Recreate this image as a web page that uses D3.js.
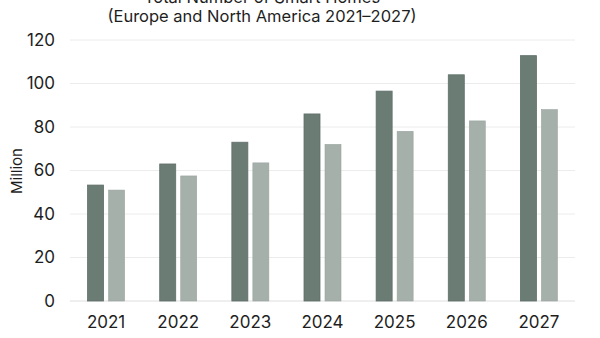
<!DOCTYPE html>
<html><head><meta charset="utf-8">
<script src="https://cdn.jsdelivr.net/npm/d3@7"></script>
<style>body{margin:0;background:#fff}svg{display:block}text{font-family:Inter,"Noto Sans",sans-serif}</style>
</head><body><svg width="600" height="338"></svg>
<script>
const years = ["2021","2022","2023","2024","2025","2026","2027"];
const seriesA = [53.3, 63, 73, 86, 96.5, 104, 112.8];
const seriesB = [51, 57.5, 63.5, 72, 78, 82.8, 88];
const yTicks = [0,20,40,60,80,100,120];
const titleLines = ["Total Number of Smart Homes","(Europe and North America 2021–2027)"];

const svg = d3.select("svg");
const W=600,H=338;
const m={left:70,right:25,top:40,bottom:37};
const x = d3.scaleBand().domain(years).range([m.left,W-m.right]).padding(0);
const y = d3.scaleLinear().domain([0,120]).range([H-m.bottom,m.top]);

// grid
svg.append("g").selectAll("line").data(yTicks).join("line")
 .attr("x1",m.left).attr("x2",W-m.right)
 .attr("y1",d=>y(d)).attr("y2",d=>y(d))
 .attr("stroke",d=>d===0?"#dedede":"#ececec").attr("stroke-width",1);

// y labels
svg.append("g").selectAll("text").data(yTicks).join("text")
 .attr("x",55).attr("y",d=>y(d)).attr("dy","0.35em").attr("text-anchor","end")
 .attr("font-size",17).attr("fill","#1e1e1e").text(d=>d);

// x labels
svg.append("g").selectAll("text").data(years).join("text")
 .attr("x",d=>x(d)+x.bandwidth()/2).attr("y",H-m.bottom+27).attr("text-anchor","middle")
 .attr("font-size",17).attr("fill","#1e1e1e").text(d=>d);

const bw=16, gap=5;
const g=svg.append("g");
g.selectAll("rect.a").data(years).join("rect").attr("class","a")
 .attr("x",(d)=>x(d)+x.bandwidth()/2-gap/2-bw)
 .attr("y",(d,i)=>y(seriesA[i])).attr("width",bw)
 .attr("height",(d,i)=>y(0)-y(seriesA[i]))
 .attr("fill","#6b7c74").attr("stroke","#5f6f68").attr("stroke-width",0.8);
g.selectAll("rect.b").data(years).join("rect").attr("class","b")
 .attr("x",(d)=>x(d)+x.bandwidth()/2+gap/2)
 .attr("y",(d,i)=>y(seriesB[i])).attr("width",bw)
 .attr("height",(d,i)=>y(0)-y(seriesB[i]))
 .attr("fill","#a6b0ab").attr("stroke","#9aa59f").attr("stroke-width",0.6);

// y title
svg.append("text").attr("transform","translate(22,171) rotate(-90)")
 .attr("text-anchor","middle").attr("font-size",15).attr("fill","#1e1e1e").text("Million");

// title
svg.append("text").attr("x",262).attr("y",3).attr("text-anchor","middle")
 .attr("font-size",16.5).attr("fill","#1e1e1e").text(titleLines[0]);
svg.append("text").attr("x",262).attr("y",22).attr("text-anchor","middle")
 .attr("font-size",16.5).attr("fill","#1e1e1e").text(titleLines[1]);
</script></body></html>
